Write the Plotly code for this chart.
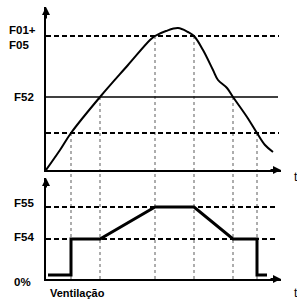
import plotly.graph_objects as go

# ---- data ----
t_events = [25, 54, 109, 148, 187, 211]          # crossing instants
event_levels = [37, 73, 134, 134, 73, 37]         # level crossed at each instant (top panel)
t_end = 233                                       # end of reference lines
curve_t = [0, 14, 25, 54, 82, 104, 109, 120, 132, 142, 148, 157, 167, 172, 181, 187, 201, 211, 219, 227]
curve_y = [0, 20, 37, 73, 105, 130, 134, 139, 142, 138, 134, 120, 100, 90, 82, 73, 53, 37, 25, 18]
lvl_f01f05 = 134
lvl_f52 = 73
lvl_low = 37
vent_t = [2, 25, 25, 54, 109, 148, 187, 211, 211, 221]
vent_y = [4, 4, 40, 40, 72, 72, 40, 40, 4, 4]
lvl_f55 = 72
lvl_f54 = 40
top_labels = ["F01+<br>F05", "F52"]
top_label_vals = [lvl_f01f05, lvl_f52]
bot_labels = ["F55", "F54", "0%"]
bot_label_vals = [lvl_f55, lvl_f54, 0]

W, H = 297, 302
L, R = 46, 281
TOP_DOM = [(H - 170) / H, (H - 7) / H]
BOT_DOM = [(H - 279) / H, (H - 178) / H]
XR = [0, 235]
FONT = "Liberation Sans, Arial, sans-serif"


def px_x(px):
    return (px - L) / (R - L)


def px_y(py):
    return (H - py) / H


fig = go.Figure()
DASH = "5px,3px"
DOT = dict(color="#777777", width=1.2, dash="dot")

# vertical dotted guides
for t, lv in zip(t_events, event_levels):
    fig.add_trace(go.Scatter(x=[t, t], y=[lv, 0], mode="lines", line=DOT,
                             xaxis="x", yaxis="y", hoverinfo="skip"))
    fig.add_shape(type="line", xref="x", yref="paper", x0=t, x1=t,
                  y0=BOT_DOM[0], y1=TOP_DOM[0], line=DOT, layer="below")

# top panel reference lines
for lv, dash, w, xe in [(lvl_f01f05, DASH, 2, t_end), (lvl_low, DASH, 2, t_end), (lvl_f52, "solid", 1.6, t_end - 1)]:
    fig.add_trace(go.Scatter(x=[0, xe], y=[lv, lv], mode="lines",
                             line=dict(color="black", width=w, dash=dash),
                             xaxis="x", yaxis="y", hoverinfo="skip"))
# top curve
fig.add_trace(go.Scatter(x=curve_t, y=curve_y, mode="lines",
                         line=dict(color="black", width=2, shape="spline", smoothing=1.0),
                         xaxis="x", yaxis="y", hoverinfo="skip"))

# bottom panel reference lines
for lv in [lvl_f55, lvl_f54]:
    fig.add_trace(go.Scatter(x=[0, t_end - 2], y=[lv, lv], mode="lines",
                             line=dict(color="black", width=2, dash=DASH),
                             xaxis="x2", yaxis="y2", hoverinfo="skip"))
fig.add_trace(go.Scatter(x=vent_t, y=vent_y, mode="lines",
                         line=dict(color="black", width=3),
                         xaxis="x2", yaxis="y2", hoverinfo="skip"))

ax_common = dict(showline=True, linewidth=2, linecolor="black", showgrid=False,
                 zeroline=False, showticklabels=False, ticks="", fixedrange=True)
fig.update_layout(
    width=W, height=H, margin=dict(l=L, r=W - R, t=0, b=0),
    paper_bgcolor="white", plot_bgcolor="white", showlegend=False,
    xaxis=dict(domain=[0, 1], range=XR, anchor="y", **ax_common),
    yaxis=dict(domain=TOP_DOM, range=[0, 163], anchor="x", **ax_common),
    xaxis2=dict(domain=[0, 1], range=XR, anchor="y2", **ax_common),
    yaxis2=dict(domain=BOT_DOM, range=[0, 101], anchor="x2", **ax_common),
)

ann = []
arrow = dict(text="", showarrow=True, arrowhead=2, arrowsize=0.8, arrowwidth=2, arrowcolor="black")
ann.append(dict(x=0, y=163, ax=0, ay=150, xref="x", yref="y", axref="x", ayref="y", **arrow))
ann.append(dict(x=XR[1], y=0, ax=XR[1] - 12, ay=0, xref="x", yref="y", axref="x", ayref="y", **arrow))
ann.append(dict(x=0, y=101, ax=0, ay=90, xref="x2", yref="y2", axref="x2", ayref="y2", **arrow))
ann.append(dict(x=XR[1], y=0, ax=XR[1] - 12, ay=0, xref="x2", yref="y2", axref="x2", ayref="y2", **arrow))

lab_font = dict(family=FONT, size=11.5, color="black")
for txt, v, ys, xp in zip(top_labels, top_label_vals, [-1, 0], [7, 12]):
    ann.append(dict(text="<b>%s</b>" % txt.replace("<br>", "</b><br><b>"), x=px_x(xp), xref="paper",
                    y=v, yref="y", xanchor="left", yanchor="middle", align="left",
                    showarrow=False, yshift=ys, font=lab_font))
for txt, v, ys in zip(bot_labels, bot_label_vals, [4, 2, -3]):
    ann.append(dict(text="<b>%s</b>" % txt, x=px_x(12), xref="paper",
                    y=v, yref="y2", xanchor="left", yanchor="middle",
                    showarrow=False, yshift=ys, font=lab_font))
ann.append(dict(text="<b>Ventilação</b>", x=px_x(48), xref="paper", y=px_y(293), yref="paper",
                xanchor="left", yanchor="middle", showarrow=False,
                font=dict(family=FONT, size=11, color="black")))
for yy in [177, 293]:
    ann.append(dict(text="t", x=px_x(292), xref="paper", y=px_y(yy), yref="paper",
                    xanchor="left", yanchor="middle", showarrow=False,
                    font=dict(family=FONT, size=12, color="black")))
fig.update_layout(annotations=ann)

fig.write_html("out.html", config=dict(displayModeBar=False, staticPlot=True),
               post_script="document.body.style.margin='0';document.body.style.overflow='hidden';")
